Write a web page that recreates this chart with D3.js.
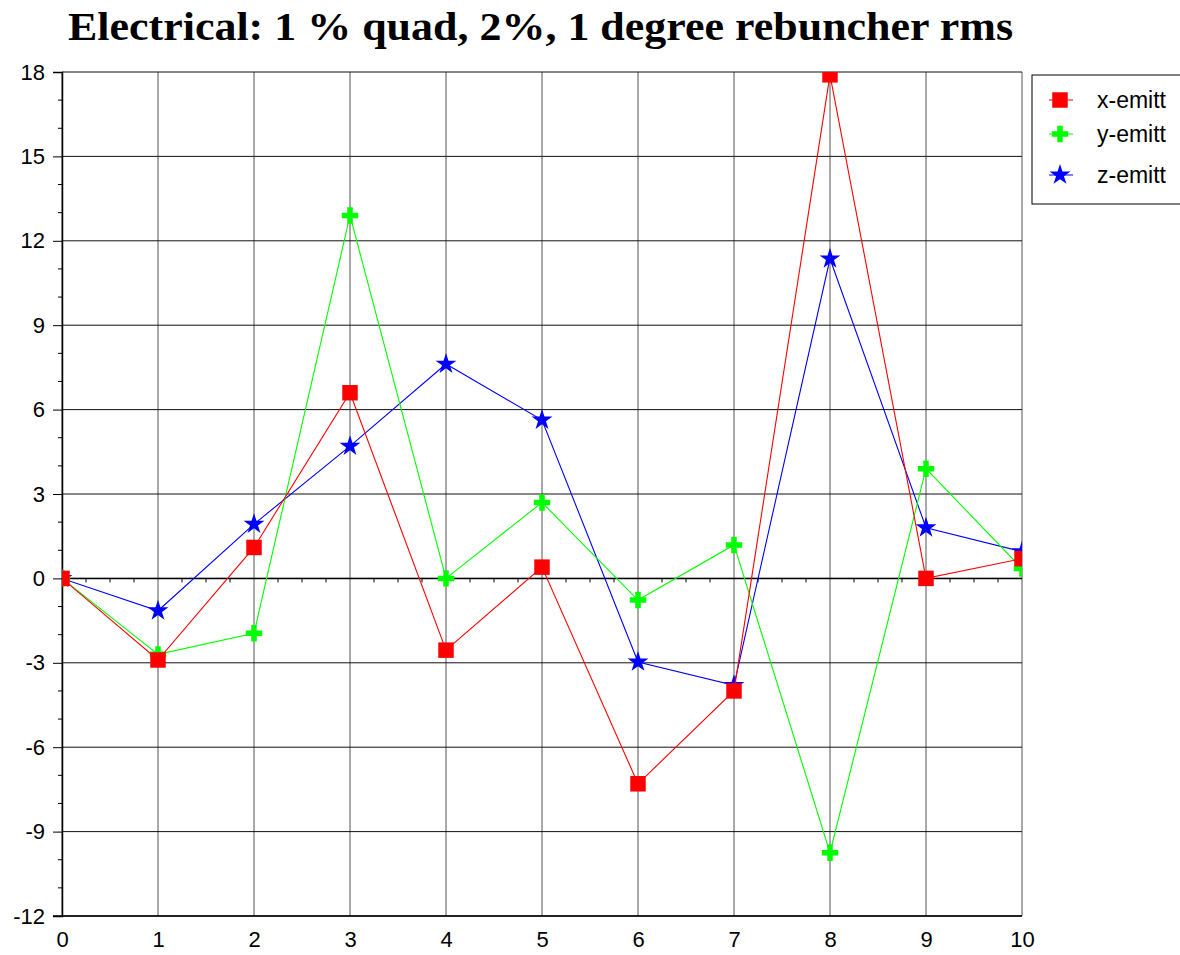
<!DOCTYPE html>
<html>
<head>
<meta charset="utf-8">
<script src="https://cdn.jsdelivr.net/npm/d3@7"></script>
<style>
  body { margin: 0; background: #fff; }
  svg { display: block; }
</style>
</head>
<body>
<script>
var steps = [0, 1, 2, 3, 4, 5, 6, 7, 8, 9, 10];
var xEmitt = [0, -2.9, 1.1, 6.6, -2.55, 0.4, -7.3, -4.0, 17.9, 0, 0.7];
var yEmitt = [0, -2.7, -1.95, 12.9, 0, 2.7, -0.77, 1.19, -9.75, 3.9, 0.35];
var zEmitt = [0, -1.15, 1.93, 4.7, 7.62, 5.63, -2.97, -3.8, 11.36, 1.8, 0.95];
var yTicks = [-12, -9, -6, -3, 0, 3, 6, 9, 12, 15, 18];
var seriesNames = ["x-emitt", "y-emitt", "z-emitt"];

var W = 1180, H = 955;
var pL = 62, pR = 1022, pT = 72, pB = 916;

var svg = d3.select("body").append("svg")
  .attr("width", W)
  .attr("height", H);

var x = d3.scaleLinear().domain([0, 10]).range([pL, pR]);
var y = d3.scaleLinear().domain([-12, 18]).range([pB, pT]);

// title
svg.append("text")
  .attr("x", 68).attr("y", 40)
  .attr("font-family", "Liberation Serif, Times New Roman, serif")
  .attr("font-weight", "bold")
  .attr("font-size", 41)
  .attr("textLength", 945)
  .attr("lengthAdjust", "spacingAndGlyphs")
  .text("Electrical: 1 % quad, 2%, 1 degree rebuncher rms");

// grid
svg.selectAll(".vgrid").data(steps).enter().append("line")
  .attr("x1", d => x(d)).attr("x2", d => x(d))
  .attr("y1", pT).attr("y2", pB)
  .attr("stroke", "#555").attr("stroke-width", 1);
svg.selectAll(".hgrid").data(yTicks).enter().append("line")
  .attr("x1", pL).attr("x2", pR)
  .attr("y1", d => y(d)).attr("y2", d => y(d))
  .attr("stroke", "#111").attr("stroke-width", 1);

// y axis (left)
var yAxis = d3.axisLeft(y).tickValues(yTicks).tickSize(9).tickPadding(8)
  .tickFormat(d => String(d));
var ya = svg.append("g").attr("transform", "translate(" + pL + ",0)").call(yAxis)
  .attr("font-family", "Liberation Sans, Arial, sans-serif").attr("font-size", 22);
ya.select(".domain").attr("stroke", "#000").attr("stroke-width", 1.5);
ya.selectAll("text").attr("fill", "#000");
var yMinor = d3.range(-12, 18.01, 1).filter(d => yTicks.indexOf(d) < 0);
svg.selectAll(".ymin").data(yMinor).enter().append("line")
  .attr("x1", pL - 4).attr("x2", pL)
  .attr("y1", d => y(d)).attr("y2", d => y(d))
  .attr("stroke", "#000");

// x axis (bottom)
var xAxis = d3.axisBottom(x).tickValues(steps).tickSize(0).tickPadding(15)
  .tickFormat(d => String(d));
var xa = svg.append("g").attr("transform", "translate(0," + pB + ")").call(xAxis)
  .attr("font-family", "Liberation Sans, Arial, sans-serif").attr("font-size", 22);
xa.select(".domain").remove();
xa.selectAll("text").attr("fill", "#000");
svg.append("line").attr("x1", pL - 9).attr("x2", pR)
  .attr("y1", pB).attr("y2", pB)
  .attr("stroke", "#000").attr("stroke-width", 1.5);

// zero axis with minor ticks
svg.append("line").attr("x1", pL).attr("x2", pR)
  .attr("y1", y(0)).attr("y2", y(0))
  .attr("stroke", "#000").attr("stroke-width", 1.5);
var xMinor = d3.range(0, 10.001, 0.25).filter(d => Math.abs(d - Math.round(d)) > 0.01);
svg.selectAll(".xmin").data(xMinor).enter().append("line")
  .attr("x1", d => x(d)).attr("x2", d => x(d))
  .attr("y1", y(0)).attr("y2", y(0) + 4)
  .attr("stroke", "#000");

// series
var series = [
  { name: seriesNames[2], values: zEmitt, color: "#0000ff", type: d3.symbolStar, size: 135 },
  { name: seriesNames[1], values: yEmitt, color: "#00ff00", type: d3.symbolCross, size: 150 },
  { name: seriesNames[0], values: xEmitt, color: "#ff0000", type: d3.symbolSquare, size: 240 }
];

svg.append("clipPath").attr("id", "plot")
  .append("rect").attr("x", pL).attr("y", pT)
  .attr("width", pR - pL).attr("height", pB - pT);

var plot = svg.append("g").attr("clip-path", "url(#plot)");
var line = d3.line().x((d, i) => x(steps[i])).y(d => y(d));

series.forEach(function(s) {
  plot.append("path").datum(s.values)
    .attr("d", line)
    .attr("fill", "none")
    .attr("stroke", s.color)
    .attr("stroke-width", 1.1);
  plot.selectAll(null).data(s.values).enter().append("path")
    .attr("d", d3.symbol().type(s.type).size(s.size))
    .attr("transform", (d, i) => "translate(" + x(steps[i]) + "," + y(d) + ")")
    .attr("fill", s.color);
});

// legend
var lg = svg.append("g");
lg.append("rect").attr("x", 1032).attr("y", 75).attr("width", 160).attr("height", 129)
  .attr("fill", "#fff").attr("stroke", "#000").attr("stroke-width", 1);
var legendOrder = [series[2], series[1], series[0]];
var rowY = [100, 134, 175];
legendOrder.forEach(function(s, i) {
  lg.append("line").attr("x1", 1049).attr("x2", 1073)
    .attr("y1", rowY[i]).attr("y2", rowY[i])
    .attr("stroke", s.color);
  lg.append("path")
    .attr("d", d3.symbol().type(s.type).size(s.size))
    .attr("transform", "translate(1060," + rowY[i] + ")")
    .attr("fill", s.color);
  lg.append("text")
    .attr("x", 1097).attr("y", rowY[i] + 8)
    .attr("font-family", "Liberation Sans, Arial, sans-serif")
    .attr("font-size", 23)
    .text(s.name);
});
</script>
</body>
</html>
